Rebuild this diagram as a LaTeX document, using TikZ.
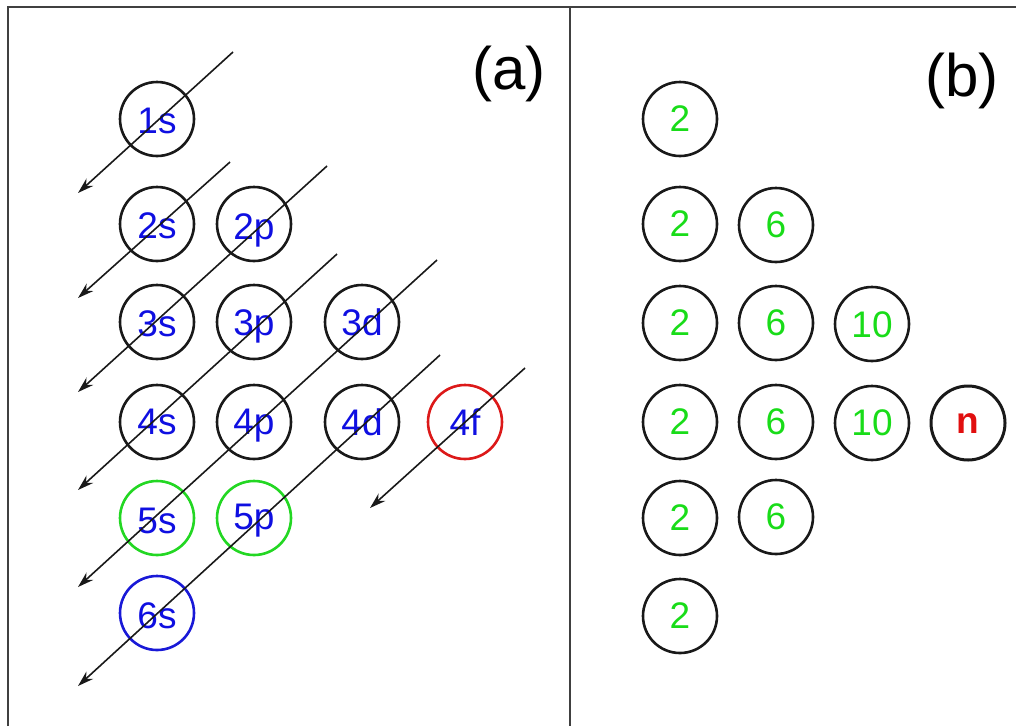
\documentclass[tikz,border=0pt]{standalone}
\usepackage{fontspec}
\setmainfont{Liberation Sans}
\usetikzlibrary{arrows.meta}
\definecolor{tblue}{RGB}{15,15,225}
\definecolor{tgreen}{RGB}{25,220,25}
\definecolor{tred}{RGB}{225,15,15}
\definecolor{cblue}{RGB}{25,25,215}
\definecolor{cgreen}{RGB}{35,215,35}
\definecolor{cred}{RGB}{220,25,25}
\newcommand{\lw}[2][3pt]{\raisebox{-#1}{#2}}
\tikzset{
  orb/.style={circle, draw=black!90, line width=2.6pt, minimum size=74pt, inner sep=0pt,
    text=tblue, font=\fontsize{37}{37}\selectfont, text depth=0pt},
  num/.style={orb, text=tgreen},
  arr/.style={line width=1.6pt, draw=black!90, -{Stealth[length=16pt,width=10pt]}},
  frame/.style={line width=1.6pt, draw=black!75},
  tag/.style={font=\fontsize{60}{60}\selectfont, inner sep=0pt, anchor=base}
}
\begin{document}
\begin{tikzpicture}[x=1pt,y=-1pt]
\useasboundingbox (0,0) rectangle (1016,726);
% frame
\draw[frame] (8,726) -- (8,7) -- (1016,7);
\draw[frame] (570,7) -- (570,726);
% panel (a)
\node[tag] (la) at (509,89) {(a)};
\node[orb] (s1) at (157,119) {\lw{1s}};
\node[orb] (s2) at (157,224) {\lw[4pt]{2s}};
\node[orb] (p2) at (254,224) {\lw[6pt]{2p}};
\node[orb] (s3) at (157,322) {\lw{3s}};
\node[orb] (p3) at (254,322) {\lw[2pt]{3p}};
\node[orb] (d3) at (362,322) {\lw[0pt]{3d}};
\node[orb] (s4) at (157,422) {\lw[0pt]{4s}};
\node[orb] (p4) at (254,422) {\lw[-1pt]{4p}};
\node[orb] (d4) at (362,422) {\lw[0pt]{4d}};
\node[orb, draw=cred] (f4) at (465,422) {\lw[0pt]{4f}};
\node[orb, draw=cgreen] (s5) at (157,518) {\lw[5pt]{5s}};
\node[orb, draw=cgreen] (p5) at (254,518) {\lw[-2pt]{5p}};
\node[orb, draw=cblue] (s6) at (157,613) {\lw[5pt]{6s}};
% arrow end points
\coordinate (a1s) at (233,52);  \coordinate (a1e) at (78,193);
\coordinate (a2s) at (230,162); \coordinate (a2e) at (78,298);
\coordinate (a3s) at (327,166); \coordinate (a3e) at (78,392);
\coordinate (a4s) at (337,254); \coordinate (a4e) at (78,490);
\coordinate (a5s) at (437,260); \coordinate (a5e) at (78,587);
\coordinate (a6s) at (440,355); \coordinate (a6e) at (78,686);
\coordinate (a7s) at (525,368); \coordinate (a7e) at (370,508);
\foreach \i in {1,...,7}{\draw[arr] (a\i s) -- (a\i e);}
% panel (b)
\node[tag] (lb) at (962,96) {(b)};
\node[num] (b11) at (680,119) {2};
\node[num] (b21) at (680,224) {2};
\node[num] (b22) at (776,225) {6};
\node[num] (b31) at (680,323) {2};
\node[num] (b32) at (776,323) {6};
\node[num] (b33) at (872,324) {\lw[2pt]{10}};
\node[num] (b41) at (680,422) {2};
\node[num] (b42) at (776,422) {6};
\node[num] (b43) at (872,423) {10};
\node[num, text=tred, line width=3pt, font=\fontsize{37}{37}\selectfont\bfseries] (b44) at (968,423) {\lw[2pt]{n}};
\node[num] (b51) at (680,518) {2};
\node[num] (b52) at (776,517) {6};
\node[num] (b61) at (680,616) {2};
\end{tikzpicture}
\end{document}
